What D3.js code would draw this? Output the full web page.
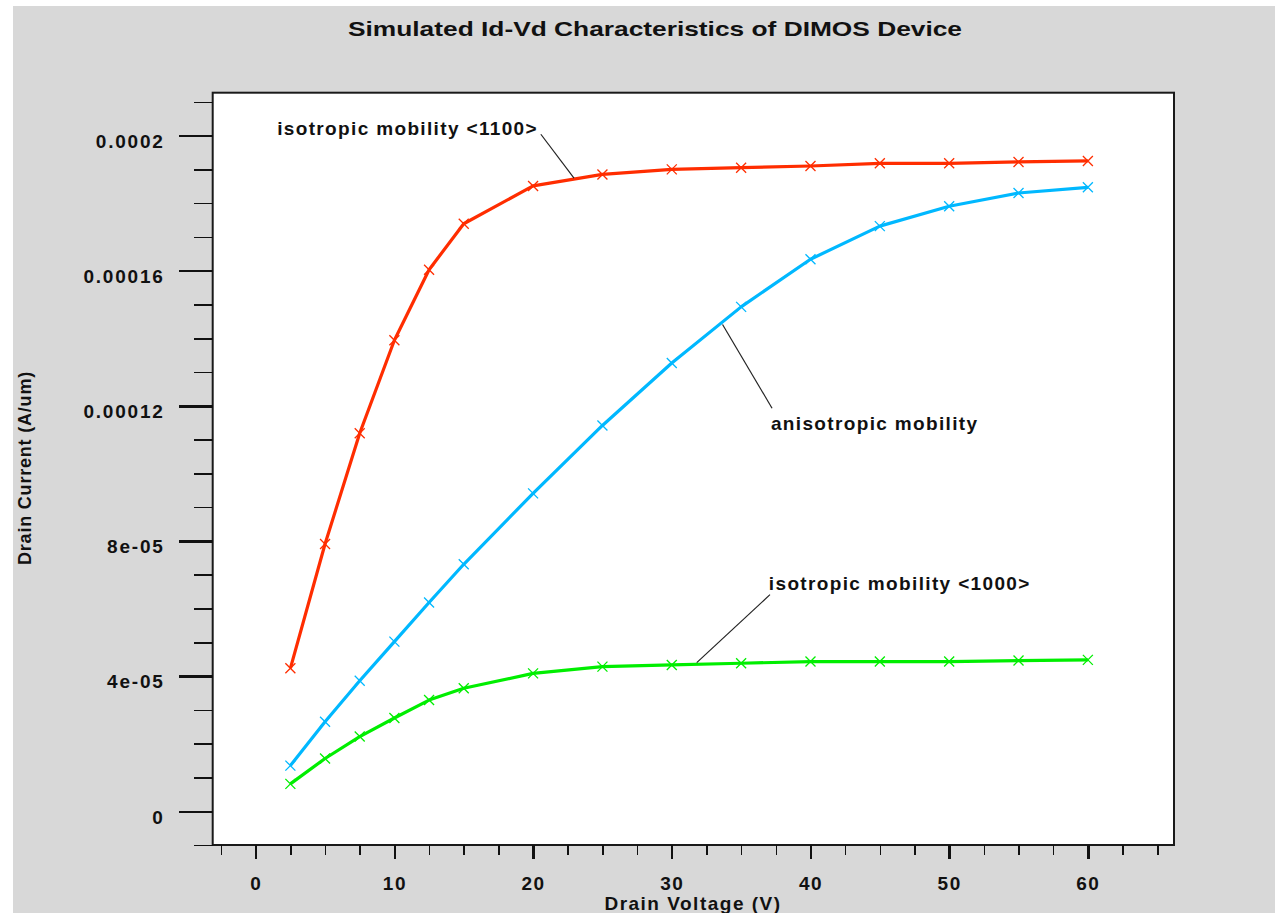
<!DOCTYPE html>
<html>
<head>
<meta charset="utf-8">
<script src="https://cdn.jsdelivr.net/npm/d3@7"></script>
<style>
  html, body { margin: 0; padding: 0; background: #ffffff; }
  svg { display: block; }
  text { font-family: "Liberation Sans", Arial, Helvetica, sans-serif; font-weight: bold; fill: #111; }
</style>
</head>
<body>
<svg id="chart" width="1275" height="913"></svg>
<script>
// Drain voltage sweep (V)
const drainVoltage = [2.5, 5, 7.5, 10, 12.5, 15, 20, 25, 30, 35, 40, 45, 50, 55, 60];

// Drain current (A/um) for each mobility model
const isoMobility1100 = [4.23e-5, 7.91e-5, 11.19e-5, 13.94e-5, 16.03e-5, 17.39e-5, 18.51e-5, 18.85e-5,
                         19.00e-5, 19.05e-5, 19.10e-5, 19.18e-5, 19.18e-5, 19.22e-5, 19.25e-5];
const anisoMobility   = [1.35e-5, 2.65e-5, 3.86e-5, 5.02e-5, 6.18e-5, 7.31e-5, 9.41e-5, 11.42e-5,
                         13.27e-5, 14.93e-5, 16.34e-5, 17.32e-5, 17.91e-5, 18.30e-5, 18.47e-5];
const isoMobility1000 = [0.81e-5, 1.56e-5, 2.21e-5, 2.76e-5, 3.29e-5, 3.64e-5, 4.08e-5, 4.28e-5,
                         4.33e-5, 4.38e-5, 4.43e-5, 4.43e-5, 4.43e-5, 4.46e-5, 4.48e-5];

const seriesNames  = ["isotropic mobility <1100>", "anisotropic mobility", "isotropic mobility <1000>"];
const seriesColors = ["#ff2d00", "#00b8ff", "#00ee00"];

// Axis ticks
const xMajorTicks = [0, 10, 20, 30, 40, 50, 60];
const xMinorTicks = d3.range(-2.5, 65.01, 2.5);
const yMajorTicks = [0, 4e-5, 8e-5, 12e-5, 16e-5, 20e-5];
const yTickLabels = ["0", "4e-05", "8e-05", "0.00012", "0.00016", "0.0002"];
const yMinorTicks = d3.range(-1, 21.01, 1).map(v => v * 1e-5);

// Label anchor points (data coordinates): text start, leader start, leader end
const labelAnchors = [
  { text: [1.55, 20.22e-5], from: [20.56, 20.04e-5], to: [22.95, 18.74e-5] },
  { text: [37.15, 11.48e-5], from: [37.23, 11.93e-5], to: [33.66, 14.41e-5] },
  { text: [37.0, 6.74e-5],  from: [37.08, 6.41e-5],  to: [31.8, 4.40e-5] }
];

const svg = d3.select("#chart");
const W = 1275, H = 913;

// Page background
svg.append("rect").attr("width", W).attr("height", H).attr("fill", "#ffffff");
svg.append("rect").attr("x", 13).attr("y", 6).attr("width", W - 13).attr("height", H - 6).attr("fill", "#d8d8d8");

// Plot frame
const box = { left: 212.7, top: 92.7, right: 1174, bottom: 845 };

const x = d3.scaleLinear().domain([-3.1, 66.21]).range([box.left, box.right]);
const y = d3.scaleLinear().domain([-1e-5, 21.27e-5]).range([box.bottom, box.top]);

svg.append("rect")
  .attr("x", box.left).attr("y", box.top)
  .attr("width", box.right - box.left).attr("height", box.bottom - box.top)
  .attr("fill", "#ffffff").attr("stroke", "#1a1a1a").attr("stroke-width", 2);

// Title
svg.append("text")
  .attr("x", 655).attr("y", 29).attr("dy", "0.35em")
  .attr("text-anchor", "middle")
  .attr("font-size", 21)
  .attr("textLength", 614).attr("lengthAdjust", "spacingAndGlyphs")
  .text("Simulated Id-Vd Characteristics of DIMOS Device");

// Y axis: minor then major ticks
const yMinor = svg.append("g").attr("transform", `translate(${box.left},0)`)
  .call(d3.axisLeft(y).tickValues(yMinorTicks).tickSize(19).tickFormat(""));
yMinor.select(".domain").remove();
yMinor.selectAll("line").attr("stroke", "#111").attr("stroke-width", 1.6).attr("shape-rendering", "crispEdges");

const yMajor = svg.append("g").attr("transform", `translate(${box.left},0)`)
  .call(d3.axisLeft(y).tickValues(yMajorTicks).tickSize(34).tickPadding(14)
    .tickFormat((d, i) => yTickLabels[i]));
yMajor.select(".domain").remove();
yMajor.selectAll("line").attr("stroke", "#111").attr("stroke-width", 2.4).attr("shape-rendering", "crispEdges");
yMajor.selectAll("text")
  .attr("font-size", 19).attr("letter-spacing", 1.8)
  .attr("dy", "0.62em")
  .attr("font-family", null).attr("fill", "#111");

// X axis: minor then major ticks
const xMinor = svg.append("g").attr("transform", `translate(0,${box.bottom})`)
  .call(d3.axisBottom(x).tickValues(xMinorTicks).tickSize(10).tickFormat(""));
xMinor.select(".domain").remove();
xMinor.selectAll("line").attr("stroke", "#111").attr("stroke-width", 1.6).attr("shape-rendering", "crispEdges");

const xMajor = svg.append("g").attr("transform", `translate(0,${box.bottom})`)
  .call(d3.axisBottom(x).tickValues(xMajorTicks).tickSize(14).tickPadding(17.5).tickFormat(d3.format("d")));
xMajor.select(".domain").remove();
xMajor.selectAll("line").attr("stroke", "#111").attr("stroke-width", 2.4).attr("shape-rendering", "crispEdges");
xMajor.selectAll("text")
  .attr("font-size", 19).attr("letter-spacing", 1.5)
  .attr("font-family", null).attr("fill", "#111");

svg.selectAll(".tick text").style("font-family", "'Liberation Sans', Arial, sans-serif").style("font-weight", "bold");

// Axis titles
svg.append("text")
  .attr("x", 693).attr("y", 903).attr("dy", "0.35em")
  .attr("text-anchor", "middle")
  .attr("font-size", 19).attr("letter-spacing", 1.5)
  .text("Drain Voltage (V)");

svg.append("text")
  .attr("transform", "translate(25,468) rotate(-90)")
  .attr("dy", "0.35em")
  .attr("text-anchor", "middle")
  .attr("font-size", 18).attr("letter-spacing", 0.8)
  .text("Drain Current (A/um)");

// Curves
const series = [isoMobility1100, anisoMobility, isoMobility1000];
const line = d3.line().x(d => x(d[0])).y(d => y(d[1]));
const plot = svg.append("g");

series.forEach((vals, si) => {
  const pts = drainVoltage.map((v, i) => [v, vals[i]]);
  plot.append("path")
    .datum(pts)
    .attr("d", line)
    .attr("fill", "none")
    .attr("stroke", seriesColors[si])
    .attr("stroke-width", 3.2)
    .attr("stroke-linejoin", "round");

  // Cross markers at each simulated bias point
  const m = 5;
  plot.append("g").selectAll("path")
    .data(pts)
    .join("path")
    .attr("d", d => {
      const cx = x(d[0]), cy = y(d[1]);
      return `M${cx - m},${cy - m}L${cx + m},${cy + m}M${cx - m},${cy + m}L${cx + m},${cy - m}`;
    })
    .attr("stroke", seriesColors[si])
    .attr("stroke-width", 1.3)
    .attr("fill", "none");
});

// Curve labels with leader lines
labelAnchors.forEach((a, i) => {
  svg.append("line")
    .attr("x1", x(a.from[0])).attr("y1", y(a.from[1]))
    .attr("x2", x(a.to[0])).attr("y2", y(a.to[1]))
    .attr("stroke", "#222").attr("stroke-width", 1.2);
  svg.append("text")
    .attr("x", x(a.text[0])).attr("y", y(a.text[1])).attr("dy", "0.35em")
    .attr("font-size", 19).attr("letter-spacing", 1.35)
    .text(seriesNames[i]);
});
</script>
</body>
</html>
